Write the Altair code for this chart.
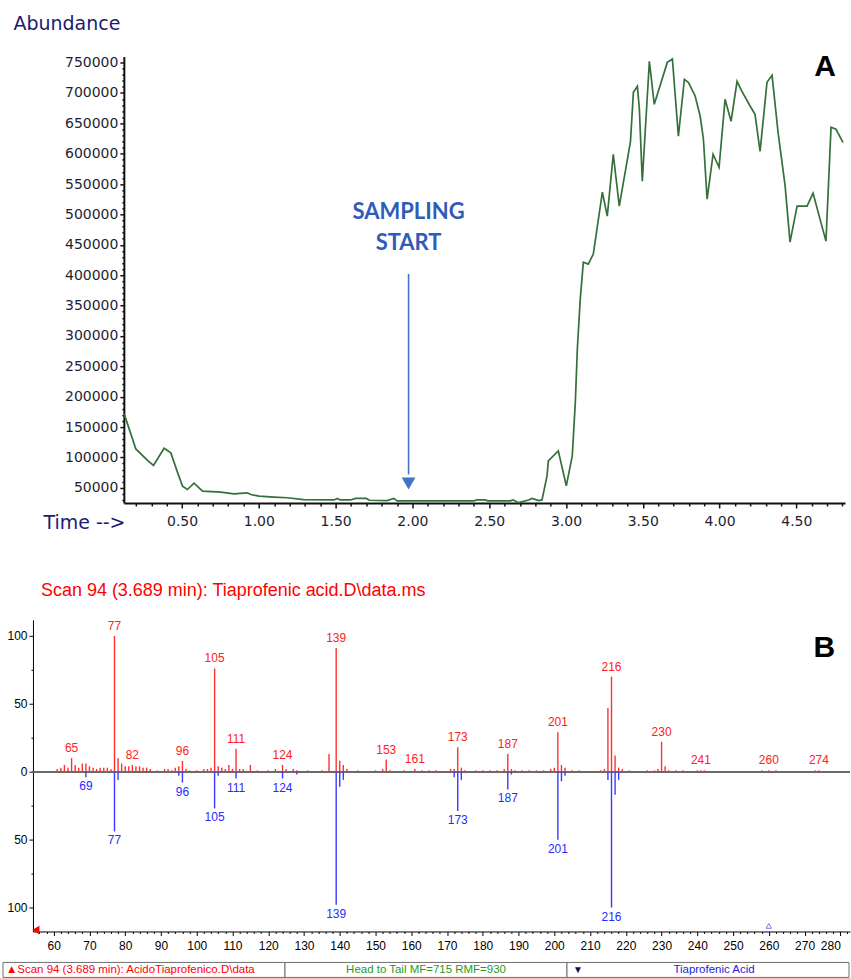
import altair as alt
import pandas as pd

# ---------------- Panel A: total ion chromatogram ----------------
tic_time = [0.123, 0.199, 0.275, 0.314, 0.383, 0.427, 0.470, 0.503, 0.535, 0.578,
            0.633, 0.752, 0.838, 0.925, 0.947, 1.001, 1.098, 1.185, 1.292, 1.490,
            1.511, 1.530, 1.597, 1.630, 1.700, 1.720, 1.836, 1.879, 1.901, 2.072,
            2.400, 2.420, 2.475, 2.490, 2.638, 2.655, 2.692, 2.757, 2.779, 2.822,
            2.844, 2.877, 2.885, 2.950, 3.002, 3.041, 3.061, 3.074, 3.093, 3.113,
            3.145, 3.178, 3.237, 3.269, 3.308, 3.347, 3.420, 3.439, 3.465, 3.478,
            3.497, 3.543, 3.575, 3.660, 3.693, 3.732, 3.771, 3.798, 3.841, 3.874,
            3.895, 3.919, 3.958, 3.997, 4.036, 4.075, 4.114, 4.145, 4.199, 4.231,
            4.264, 4.309, 4.342, 4.381, 4.427, 4.459, 4.505, 4.570, 4.609, 4.693,
            4.726, 4.758, 4.804]
tic_abund = [171700, 114000, 95000, 86700, 115000, 107500, 75800, 52800, 47200, 57700,
             44600, 43000, 40000, 41800, 39000, 36300, 34700, 33600, 30500, 30000,
             32500, 30000, 30000, 32500, 32500, 29500, 29000, 32500, 28500, 28600,
             28500, 30000, 30000, 28500, 28500, 30000, 25500, 30000, 32500, 29000,
             30000, 70000, 94400, 110800, 53300, 102600, 191400, 278500, 360700, 421500,
             418300, 434700, 536600, 497200, 599100, 513600, 620000, 701000, 710900, 673100,
             554700, 752000, 681300, 750300, 756000, 628700, 722400, 717000, 695000, 661600,
             623800, 525100, 599100, 577700, 689500, 653300, 719100, 703000, 678500, 664900,
             604000, 717500, 729000, 635300, 547000, 454400, 513600, 513600, 535000, 456100,
             643500, 640200, 618800]

arrow_time = [1.975]
arrow_top = [402000]
arrow_end = [72000]
arrow_head = [57000]
sampling_words = ["SAMPLING", "START"]
sampling_abund = [503700, 452800]

# ---------------- Panel B: mass spectrum (head to tail) ----------------
scan_mz = [61, 62, 63, 64, 65, 66, 67, 68, 69, 70, 71, 72, 73, 74, 75, 76, 77, 78, 79, 80,
           81, 82, 83, 84, 85, 86, 87, 89, 91, 92, 93, 94, 95, 96, 97, 98, 100, 102, 103, 104,
           105, 106, 107, 108, 109, 110, 111, 112, 113, 115, 117, 120, 122, 124, 125, 127, 128,
           131, 135, 137, 139, 140, 141, 142, 145, 150, 152, 153, 154, 158, 161, 163, 165, 167,
           171, 172, 173, 174, 175, 178, 180, 182, 184, 186, 187, 188, 189, 191, 193, 195, 197,
           199, 200, 201, 202, 203, 205, 207, 213, 214, 215, 216, 217, 218, 219, 221, 226, 228,
           229, 230, 231, 232, 234, 236, 240, 241, 242, 258, 260, 262, 273, 274]
scan_rel = [2, 3, 5, 3, 10, 5, 3, 6, 6, 4, 3, 2, 3, 3, 3, 2, 100, 10, 6, 4,
            4, 5, 4, 4, 3, 3, 2, 1, 2, 2, 1, 3, 4, 8, 2, 1, 1, 2, 2, 3,
            76, 4, 3, 2, 5, 2, 17, 2, 2, 5, 1, 1, 2, 5, 2, 2, 1,
            1, 1, 13, 91, 8, 5, 2, 1, 1, 2, 9, 1, 1, 2, 1, 1, 1,
            2, 2, 18, 3, 1, 1, 1, 1, 1, 2, 13, 2, 1, 1, 1, 1, 1,
            2, 3, 29, 5, 3, 1, 1, 1, 2, 47, 70, 12, 3, 2, 1, 1, 1,
            2, 22, 4, 1, 1, 1, 1, 1, 1, 1, 1, 1, 1, 1]
lib_mz = [69, 77, 78, 95, 96, 105, 106, 111, 124, 128, 139, 140, 141, 172, 173, 174,
          187, 188, 201, 202, 203, 215, 216, 217, 218]
lib_rel = [4, 44, 6, 3, 8, 27, 3, 5, 5, 2, 98, 11, 6, 4, 29, 6,
           13, 2, 50, 7, 3, 6, 100, 17, 6]
scan_label_mz = [65, 77, 82, 96, 105, 111, 124, 139, 153, 161, 173, 187, 201, 216, 230, 241, 260, 274]
lib_label_mz = [69, 77, 96, 105, 111, 124, 139, 173, 187, 201, 216]

spectrum_title = "Scan 94 (3.689 min): Tiaprofenic acid.D\\data.ms"

# ---------------- status bar ----------------
status_box = ["a", "b", "c"]
status_text = ["\u25b2Scan 94 (3.689 min): AcidoTiaprofenico.D\\data",
               "Head to Tail MF=715 RMF=930",
               "Tiaprofenic Acid"]

# ---------------- build tables ----------------
tic = pd.DataFrame({"t": tic_time, "v": tic_abund})
arrow = pd.DataFrame({"t": arrow_time, "top": arrow_top, "end": arrow_end, "head": arrow_head})
samp = pd.DataFrame({"t": arrow_time * 2, "v": sampling_abund, "w": sampling_words})
tag_a = pd.DataFrame({"t": [4.687], "v": [742000], "w": ["A"]})

scan = pd.DataFrame({"mz": scan_mz, "rel": scan_rel})
lib = pd.DataFrame({"mz": lib_mz, "rel": [-r for r in lib_rel]})
scan_lookup = dict(zip(scan_mz, scan_rel))
lib_lookup = dict(zip(lib_mz, lib_rel))
scan_lab = pd.DataFrame({"mz": scan_label_mz,
                         "rel": [scan_lookup[m] for m in scan_label_mz],
                         "lab": [str(m) for m in scan_label_mz]})
lib_lab = pd.DataFrame({"mz": lib_label_mz,
                        "rel": [-lib_lookup[m] for m in lib_label_mz],
                        "lab": [str(m) for m in lib_label_mz]})
tag_b = pd.DataFrame({"mz": [275.5], "rel": [91], "w": ["B"]})
tri_red = pd.DataFrame({"mz": [55.0], "rel": [-116.5]})
tri_blue = pd.DataFrame({"mz": [260.0], "rel": [-113.5]})

status = pd.DataFrame({"box": status_box, "txt": status_text})

# ---------------- Panel A chart ----------------
NAVY = "#1b1b72"
LABEL = "#1e1e30"
A_W, A_H = 813, 447

xA_ticks = [round(0.2 + 0.1 * i, 1) for i in range(47)]
yA_ticks = [30000 + 10000 * i for i in range(73)]

xA = alt.X("t:Q",
           scale=alt.Scale(domain=[0.121, 4.817], range=[91, A_W], nice=False, zero=False),
           axis=alt.Axis(values=xA_ticks, tickCount=1000,
                         labelExpr="abs(datum.value*2 - round(datum.value*2)) < 0.001 ? format(datum.value, '.2f') : ''",
                         tickSize={"condition": {"test": "abs(datum.value*2 - round(datum.value*2)) < 0.001", "value": 5}, "value": 3},
                         labelOverlap=False, labelFlush=False,
                         labelFont="DejaVu Sans", labelFontSize=14, labelColor=LABEL,
                         labelPadding=7, domainColor="#111111", domainWidth=2,
                         tickColor="#111111", tickWidth=1.5,
                         title="Time -->", titleX=10, titleY=20, titleAlign="left",
                         titleBaseline="middle", titleAngle=0,
                         titleFont="DejaVu Sans", titleFontSize=19, titleFontWeight="normal",
                         titleColor=NAVY))
yA = alt.Y("v:Q",
           scale=alt.Scale(domain=[25000, 760000], nice=False, zero=False),
           axis=alt.Axis(values=yA_ticks, tickCount=1000, offset=-91,
                         labelExpr="datum.value % 50000 == 0 ? format(datum.value, 'd') : ''",
                         tickSize={"condition": {"test": "datum.value % 50000 == 0", "value": 4}, "value": 2},
                         labelOverlap=False, labelFont="DejaVu Sans", labelFontSize=14,
                         labelColor=LABEL, labelPadding=2,
                         domainColor="#111111", domainWidth=2,
                         tickColor="#111111", tickWidth=1.5,
                         title="Abundance", titleX=-111, titleY=-33, titleAlign="left",
                         titleBaseline="middle", titleAngle=0,
                         titleFont="DejaVu Sans", titleFontSize=19, titleFontWeight="normal",
                         titleColor=NAVY))

line = alt.Chart(tic).mark_line(color="#34703a", strokeWidth=1.7).encode(x=xA, y=yA)
arrow_line = alt.Chart(arrow).mark_rule(color="#4472c4", strokeWidth=1.6).encode(
    x="t:Q", y="top:Q", y2="end:Q")
arrow_tip = alt.Chart(arrow).mark_point(shape="triangle-down", filled=True, size=190,
                                        color="#4472c4", opacity=1).encode(x="t:Q", y="head:Q")
samp_text = alt.Chart(samp).mark_text(font="Lato", fontSize=22, fontWeight="bold",
                                      color="#2f5cb8", align="center", baseline="middle").encode(
    x="t:Q", y="v:Q", text="w:N")
a_text = alt.Chart(tag_a).mark_text(font="Liberation Sans", fontSize=30, fontWeight="bold",
                                    color="#000000", align="center", baseline="middle").encode(
    x="t:Q", y="v:Q", text="w:N")

chart_a = alt.layer(line, arrow_line, arrow_tip, samp_text, a_text).properties(width=A_W, height=A_H)

# ---------------- Panel B chart ----------------
B_W, B_H = 818, 312
xB_ticks = [56 + 2 * i for i in range(114)]
yB_ticks = [-100 + 25 * i for i in range(9)]
FONT_B = "Liberation Sans"

xB = alt.X("mz:Q",
           scale=alt.Scale(domain=[54.2, 282.7], nice=False, zero=False),
           axis=alt.Axis(values=xB_ticks, tickCount=1000,
                         labelExpr="datum.value % 10 == 0 ? '' + datum.value : ''",
                         tickSize={"condition": {"test": "datum.value % 10 == 0", "value": 4}, "value": 2},
                         labelOverlap=False, labelFlush=10,
                         labelFont=FONT_B, labelFontSize=12, labelColor="#000000",
                         labelPadding=5, domainColor="#000000", domainWidth=1,
                         tickColor="#000000", tickWidth=1, title=None))
yB = alt.Y("rel:Q",
           scale=alt.Scale(domain=[-117.6, 111.8], nice=False, zero=False),
           axis=alt.Axis(values=yB_ticks, tickCount=1000,
                         labelExpr="datum.value % 50 == 0 ? '' + abs(datum.value) : ''",
                         tickSize={"condition": {"test": "datum.value % 50 == 0", "value": 4}, "value": 2},
                         labelOverlap=False, labelFont=FONT_B, labelFontSize=12,
                         labelColor="#000000", labelPadding=2,
                         domainColor="#000000", domainWidth=1,
                         tickColor="#000000", tickWidth=1, title=None))

zero_line = alt.Chart(scan).mark_rule(color="#6a6a6a", strokeWidth=1.5).encode(y=alt.datum(0))
scan_bars = alt.Chart(scan).mark_rule(color="#ff3030", strokeWidth=1.4).encode(
    x=xB, y=yB, y2=alt.datum(0))
lib_bars = alt.Chart(lib).mark_rule(color="#3a3aff", strokeWidth=1.4).encode(
    x="mz:Q", y="rel:Q", y2=alt.datum(0))
scan_text = alt.Chart(scan_lab).mark_text(font=FONT_B, fontSize=12, color="#ff2020",
                                          baseline="bottom", dy=-3).encode(
    x="mz:Q", y="rel:Q", text="lab:N")
lib_text = alt.Chart(lib_lab).mark_text(font=FONT_B, fontSize=12, color="#2a2aff",
                                        baseline="top", dy=4).encode(
    x="mz:Q", y="rel:Q", text="lab:N")
b_text = alt.Chart(tag_b).mark_text(font="Liberation Sans", fontSize=30, fontWeight="bold",
                                    color="#000000", align="center", baseline="middle").encode(
    x="mz:Q", y="rel:Q", text="w:N")
red_tri = alt.Chart(tri_red).mark_point(shape="triangle-left", filled=True, size=70,
                                        color="#ff0000", opacity=1).encode(x="mz:Q", y="rel:Q")
blue_tri = alt.Chart(tri_blue).mark_point(shape="triangle-up", filled=False, size=30,
                                          color="#3a3aff", strokeWidth=1).encode(x="mz:Q", y="rel:Q")

chart_b = alt.layer(zero_line, scan_bars, lib_bars, scan_text, lib_text, b_text, red_tri, blue_tri).properties(
    width=B_W, height=B_H,
    title=alt.TitleParams(text=spectrum_title, anchor="start", frame="group", dx=8, offset=20,
                          font="Liberation Sans", fontSize=18, fontWeight="normal", color="#ff0000"))

# ---------------- status bar chart ----------------
C_W, C_H = 817, 15
xC = alt.X("box:N", scale=alt.Scale(domain=status_box, range=[-30, C_W], paddingInner=0, paddingOuter=0),
           axis=None)
boxes = alt.Chart(status).mark_rect(fill="#ffffff", stroke="#6e6e6e", strokeWidth=1).encode(x=xC)
t_left = alt.Chart(status[status.box == "a"]).mark_text(font=FONT_B, fontSize=11.5, color="#ff0000",
                                                      align="left", baseline="middle", dx=3).encode(
    x=alt.X("box:N", bandPosition=0, axis=None), text="txt:N")
t_mid = alt.Chart(status[status.box == "b"]).mark_text(font=FONT_B, fontSize=11.5, color="#1f9a1f",
                                                     align="center", baseline="middle").encode(
    x=alt.X("box:N", axis=None), text="txt:N")
t_right = alt.Chart(status[status.box == "c"]).mark_text(font=FONT_B, fontSize=11.5, color="#2323d8",
                                                       align="center", baseline="middle", dx=6).encode(
    x=alt.X("box:N", axis=None), text="txt:N")
t_arrow = alt.Chart(status[status.box == "c"]).mark_text(font=FONT_B, fontSize=10, color="#10104a",
                                                       align="left", baseline="middle", dx=6).encode(
    x=alt.X("box:N", bandPosition=0, axis=None), text=alt.value("\u25bc"))

chart_c = alt.layer(boxes, t_left, t_mid, t_right, t_arrow).properties(width=C_W, height=C_H)

chart = alt.vconcat(
    chart_a,
    alt.vconcat(chart_b, chart_c, spacing=10),
    spacing=49,
).properties(
    padding={"left": 2, "top": 14, "right": 0, "bottom": 0},
    background="#ffffff",
).configure_view(strokeWidth=0).configure_axis(grid=False)

chart.save("out.html", embed_options={"renderer": "svg", "actions": False})
